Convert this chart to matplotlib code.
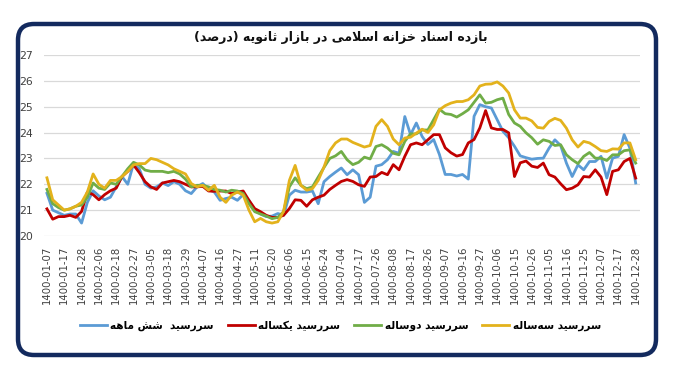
import numpy as np
import matplotlib.pyplot as plt
from matplotlib.patches import FancyBboxPatch

# tick labels (one every 7 trading days)
dates = ['1400-01-07', '1400-01-17', '1400-01-28', '1400-02-06', '1400-02-18', '1400-02-27',
         '1400-03-05', '1400-03-18', '1400-03-29', '1400-04-07', '1400-04-16', '1400-04-27',
         '1400-05-11', '1400-05-20', '1400-06-06', '1400-06-15', '1400-06-24', '1400-07-04',
         '1400-07-17', '1400-07-26', '1400-08-08', '1400-08-17', '1400-08-26', '1400-09-07',
         '1400-09-16', '1400-09-27', '1400-10-06', '1400-10-15', '1400-10-26', '1400-11-05',
         '1400-11-16', '1400-11-25', '1400-12-07', '1400-12-17', '1400-12-28']

# yields, three samples per tick interval
six_month = [21.65, 21.0, 20.9, 20.8, 20.85, 20.85, 20.5, 21.3, 21.75, 21.55, 21.4, 21.5, 21.9,
             22.3, 22.0, 22.8, 22.6, 22.0, 21.85, 21.9, 22.05, 21.95, 22.1, 22.0, 21.75, 21.64,
             21.9, 22.03, 21.8, 21.7, 21.38, 21.45, 21.5, 21.38, 21.6, 21.38, 21.0, 20.85, 20.75,
             20.77, 20.87, 20.8, 21.58, 21.77, 21.7, 21.7, 21.74, 21.25, 22.1, 22.3, 22.47, 22.63,
             22.37, 22.56, 22.37, 21.3, 21.5, 22.7, 22.76, 22.95, 23.27, 23.2, 24.62, 23.92, 24.37,
             23.85, 23.54, 23.73, 23.15, 22.38, 22.38, 22.32, 22.38, 22.2, 24.63, 25.08, 25.0,
             24.95, 24.5, 24.05, 23.8, 23.47, 23.1, 23.03, 22.97, 23.0, 23.01, 23.4, 23.72, 23.5,
             22.82, 22.3, 22.75, 22.56, 22.88, 22.88, 23.08, 22.24, 23.01, 23.08, 23.92, 23.4, 22.05]
one_year = [21.05, 20.65, 20.75, 20.75, 20.8, 20.72, 20.95, 21.7, 21.6, 21.4, 21.6, 21.75, 21.85,
            22.3, 22.5, 22.75, 22.45, 22.1, 21.9, 21.8, 22.05, 22.1, 22.15, 22.1, 22.0, 21.9,
            21.9, 21.92, 21.74, 21.73, 21.74, 21.74, 21.64, 21.7, 21.74, 21.38, 21.06, 20.94, 20.8,
            20.72, 20.72, 20.8, 21.06, 21.4, 21.38, 21.15, 21.4, 21.5, 21.58, 21.8, 21.96, 22.11,
            22.18, 22.11, 21.98, 21.92, 22.28, 22.3, 22.46, 22.37, 22.76, 22.56, 23.08, 23.53, 23.6,
            23.53, 23.72, 23.92, 23.92, 23.41, 23.22, 23.09, 23.15, 23.6, 23.73, 24.18, 24.85,
            24.18, 24.12, 24.12, 23.99, 22.3, 22.83, 22.9, 22.7, 22.65, 22.82, 22.37, 22.28, 22.02,
            21.79, 21.85, 21.98, 22.3, 22.28, 22.56, 22.28, 21.6, 22.5, 22.56, 22.88, 23.0, 22.24]
two_year = [21.8, 21.25, 21.1, 21.0, 21.05, 21.15, 21.2, 21.5, 22.05, 21.85, 21.8, 22.05, 22.0,
            22.3, 22.6, 22.85, 22.75, 22.55, 22.5, 22.5, 22.5, 22.45, 22.5, 22.4, 22.2, 21.9,
            21.96, 21.96, 21.9, 21.8, 21.77, 21.7, 21.77, 21.74, 21.64, 21.25, 20.94, 20.85, 20.77,
            20.67, 20.72, 20.94, 21.9, 22.25, 21.96, 21.83, 21.9, 22.28, 22.65, 23.0, 23.1, 23.27,
            22.95, 22.76, 22.85, 23.05, 22.98, 23.46, 23.53, 23.4, 23.2, 23.14, 23.66, 23.95, 23.95,
            24.1, 24.1, 24.5, 24.9, 24.73, 24.7, 24.6, 24.73, 24.88, 25.17, 25.46, 25.14, 25.17,
            25.27, 25.33, 24.7, 24.37, 24.24, 23.99, 23.8, 23.55, 23.72, 23.66, 23.5, 23.53, 23.14,
            22.95, 22.8, 23.08, 23.23, 23.01, 23.01, 22.92, 23.14, 23.14, 23.3, 23.33, 22.82]
three_year = [22.25, 21.4, 21.2, 21.0, 21.05, 21.15, 21.3, 21.7, 22.4, 22.0, 21.85, 22.15, 22.15,
              22.3, 22.5, 22.75, 22.8, 22.8, 23.0, 22.95, 22.85, 22.75, 22.6, 22.5, 22.4, 22.03,
              21.9, 21.96, 21.77, 21.96, 21.5, 21.3, 21.58, 21.7, 21.58, 21.0, 20.55, 20.68, 20.55,
              20.5, 20.55, 20.95, 22.15, 22.73, 21.96, 21.77, 21.83, 22.15, 22.67, 23.3, 23.6, 23.75,
              23.75, 23.62, 23.53, 23.44, 23.5, 24.24, 24.5, 24.24, 23.75, 23.53, 23.79, 23.82, 23.98,
              24.13, 24.0, 24.3, 24.88, 25.04, 25.14, 25.2, 25.2, 25.27, 25.46, 25.8, 25.87, 25.88,
              25.96, 25.8, 25.53, 24.88, 24.56, 24.56, 24.45, 24.2, 24.17, 24.43, 24.55, 24.47, 24.17,
              23.72, 23.44, 23.66, 23.6, 23.46, 23.3, 23.27, 23.37, 23.36, 23.6, 23.6, 22.95]

title = 'بازده اسناد خزانه اسلامی در بازار ثانویه (درصد)'
labels = ['سررسید  شش ماهه', 'سررسید یکساله', 'سررسید دوساله', 'سررسید سه\u200cساله']
colors = ['#5B9BD5', '#C00000', '#70AD47', '#E3B21C']

# minimal Persian shaping: (isolated, final, initial, medial)
FORMS = {
    'ا': ('\uFE8D', '\uFE8E'), 'د': ('\uFEA9', '\uFEAA'), 'ر': ('\uFEAD', '\uFEAE'),
    'ز': ('\uFEAF', '\uFEB0'), 'و': ('\uFEED', '\uFEEE'),
    'ب': ('\uFE8F', '\uFE90', '\uFE91', '\uFE92'), 'ث': ('\uFE99', '\uFE9A', '\uFE9B', '\uFE9C'),
    'خ': ('\uFEA5', '\uFEA6', '\uFEA7', '\uFEA8'), 'س': ('\uFEB1', '\uFEB2', '\uFEB3', '\uFEB4'),
    'ش': ('\uFEB5', '\uFEB6', '\uFEB7', '\uFEB8'), 'ص': ('\uFEB9', '\uFEBA', '\uFEBB', '\uFEBC'),
    'ل': ('\uFEDD', '\uFEDE', '\uFEDF', '\uFEE0'), 'م': ('\uFEE1', '\uFEE2', '\uFEE3', '\uFEE4'),
    'ن': ('\uFEE5', '\uFEE6', '\uFEE7', '\uFEE8'), 'ه': ('\uFEE9', '\uFEEA', '\uFEEB', '\uFEEC'),
    'ی': ('\uFBFC', '\uFBFD', '\uFBFE', '\uFBFF'), 'ک': ('\uFB8E', '\uFB8F', '\uFB90', '\uFB91'),
}


def shape(text):
    chars = list(text)
    out = []
    i = 0
    while i < len(chars):
        c = chars[i]
        if c not in FORMS:
            if c != '\u200c':
                out.append(c)
            i += 1
            continue
        prev = chars[i - 1] if i > 0 else ''
        jp = len(FORMS.get(prev, ())) == 4
        if c == 'ل' and i + 1 < len(chars) and chars[i + 1] == 'ا':
            out.append('\uFEFC' if jp else '\uFEFB')
            i += 2
            continue
        nxt = chars[i + 1] if i + 1 < len(chars) else ''
        f = FORMS[c]
        jn = len(f) == 4 and nxt in FORMS
        if jp and jn:
            g = f[3]
        elif jp:
            g = f[1]
        elif jn:
            g = f[2]
        else:
            g = f[0]
        out.append(g)
        i += 1
    return ''.join(out)[::-1].translate(str.maketrans('()', ')('))


plt.rcParams['font.family'] = ['DejaVu Sans']

fig = plt.figure(figsize=(6.74, 3.85), dpi=100)

# rounded navy frame, drawn in pixel space
bg = fig.add_axes([0, 0, 1, 1], zorder=-1)
bg.set_xlim(0, 674)
bg.set_ylim(0, 385)
bg.axis('off')
bg.add_patch(FancyBboxPatch((18, 30), 638, 331, boxstyle='round,pad=0,rounding_size=16',
                            facecolor='white', edgecolor='#132A5E', linewidth=3.2))

ax = fig.add_axes([44 / 674, 1 - 236 / 385, 596 / 674, 181 / 385])
ax.set_facecolor('none')
x = np.arange(len(six_month)) / 3
series = [six_month, one_year, two_year, three_year]
for vals, lab, col in zip(series, labels, colors):
    ax.plot(x, vals, color=col, lw=2.0, label=shape(lab), solid_joinstyle='round')

ax.set_xlim(-0.17, 34.25)
ax.set_ylim(20, 27)
ax.set_yticks(range(20, 28))
ax.set_xticks(range(len(dates)))
ax.set_xticklabels(dates, rotation=90)
ax.tick_params(axis='both', length=0, colors='#404040')
ax.tick_params(axis='x', labelsize=7.3, pad=7)
ax.tick_params(axis='y', labelsize=7.8, pad=8)
ax.grid(axis='y', color='#D9D9D9', lw=0.9)
ax.set_axisbelow(True)
for s in ax.spines.values():
    s.set_visible(False)

fig.text(0.505, 1 - 38 / 385, shape(title), ha='center', va='center',
         fontsize=9, fontweight='bold', color='#111111')

fig.legend(loc='center', bbox_to_anchor=(0.505, 1 - 326 / 385), ncol=4, frameon=False,
           prop={'size': 7.6, 'weight': 'bold'}, handlelength=2.6, columnspacing=1.3,
           handletextpad=0.3)

fig.savefig('out.png', dpi=100)
